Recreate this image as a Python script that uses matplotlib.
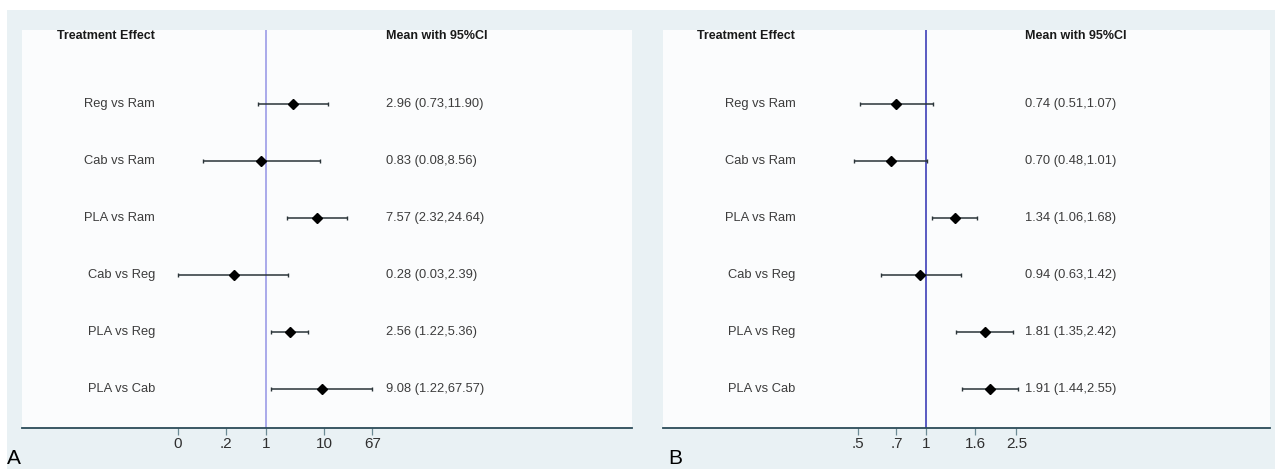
import numpy as np
import matplotlib.pyplot as plt
from matplotlib.patches import Rectangle

plt.rcParams['font.family'] = ['Liberation Sans', 'DejaVu Sans']

comparisons = ["Reg vs Ram", "Cab vs Ram", "PLA vs Ram", "Cab vs Reg", "PLA vs Reg", "PLA vs Cab"]

# panel A
mean_a = [2.96, 0.83, 7.57, 0.28, 2.56, 9.08]
low_a = [0.73, 0.08, 2.32, 0.03, 1.22, 1.22]
high_a = [11.90, 8.56, 24.64, 2.39, 5.36, 67.57]
ticks_a = [0.03, 0.2, 1, 10, 67.57]
ticklabels_a = ["0", ".2", "1", "10", "67"]

# panel B
mean_b = [0.74, 0.70, 1.34, 0.94, 1.81, 1.91]
low_b = [0.51, 0.48, 1.06, 0.63, 1.35, 1.44]
high_b = [1.07, 1.01, 1.68, 1.42, 2.42, 2.55]
ticks_b = [0.5, 0.74, 1, 1.65, 2.5]
ticklabels_b = [".5", ".7", "1", "1.6", "2.5"]

W, H = 1282, 469
fig = plt.figure(figsize=(W / 100, H / 100), dpi=100)
fig.patch.set_facecolor("white")
fig.patches.append(Rectangle((7 / W, 0), 1268 / W, (H - 10) / H, transform=fig.transFigure,
                             facecolor="#e9f1f4", edgecolor="none", zorder=-5))

axis_col = "#2b4b58"
text_col = "#3c3c3c"


def forest(left_px, width_px, mean, low, high, ticks, ticklabels, xlim, refcol, letter, letter_x):
    top_px, bottom_px = 30, 428
    ax = fig.add_axes([left_px / W, 1 - bottom_px / H, width_px / W, (bottom_px - top_px) / H])
    ax.set_facecolor("#fbfcfd")
    ax.set_xscale("log")
    ax.set_xlim(*xlim)
    ax.set_ylim(5.684, -1.298)
    y = np.arange(len(mean))
    m = np.array(mean)
    err = [m - np.array(low), np.array(high) - m]
    ax.axvline(1, color=refcol, lw=1.3, zorder=1)
    ax.errorbar(m, y, xerr=err, fmt="D", color="black", ecolor="#2a3438", elinewidth=1.1,
                capsize=1.5, capthick=1.0, markersize=5, zorder=3)
    for yi, name, mv, lo, hi in zip(y, comparisons, mean, low, high):
        ax.text(0.218, yi, name, transform=ax.get_yaxis_transform(), ha="right", va="center",
                fontsize=9.3, color=text_col)
        ax.text(0.596, yi, f"{mv:.2f} ({lo:.2f},{hi:.2f})", transform=ax.get_yaxis_transform(),
                ha="left", va="center", fontsize=9.3, color=text_col)
    ax.text(0.218, -1.2, "Treatment Effect", transform=ax.get_yaxis_transform(), ha="right",
            va="center", fontsize=9, fontweight="bold", color="#1a1a1a")
    ax.text(0.596, -1.2, "Mean with 95%CI", transform=ax.get_yaxis_transform(), ha="left",
            va="center", fontsize=9, fontweight="bold", color="#1a1a1a")
    for s in ["top", "right", "left"]:
        ax.spines[s].set_visible(False)
    ax.spines["bottom"].set_color(axis_col)
    ax.spines["bottom"].set_linewidth(1.3)
    ax.set_yticks([])
    ax.set_xticks(ticks)
    ax.set_xticklabels(ticklabels)
    ax.minorticks_off()
    ax.tick_params(axis="x", length=5, width=0.9, color="#6b8a94", labelsize=11,
                   labelcolor="#2f2f2f", pad=1.5)
    fig.text(letter_x / W, 1 - 458 / H, letter, fontsize=15, color="black",
             ha="left", va="center")
    return ax


forest(22, 610, mean_a, low_a, high_a, ticks_a, ticklabels_a,
       (10 ** -4.21, 10 ** 6.31), "#a3a3e8", "A", 7)
forest(663, 607, mean_b, low_b, high_b, ticks_b, ticklabels_b,
       (10 ** -1.159, 10 ** 1.515), "#4d4dbd", "B", 668)

fig.savefig("out.png", dpi=100)
